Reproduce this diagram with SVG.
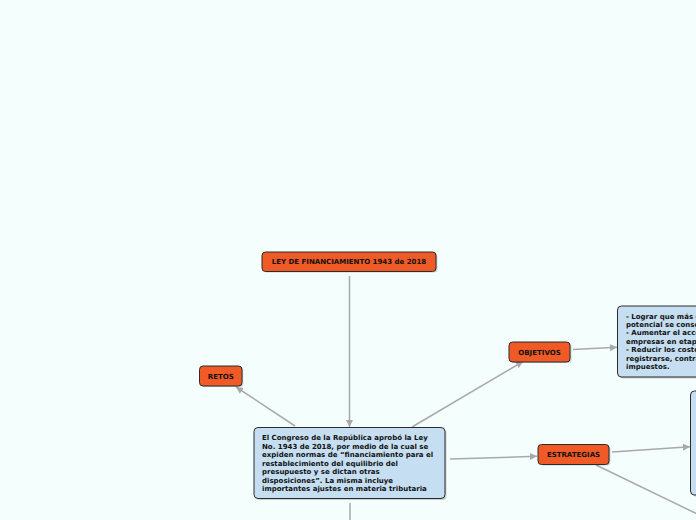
<svg xmlns="http://www.w3.org/2000/svg" width="696" height="520" viewBox="0 0 696 520">
<defs>
<marker id="arr" markerWidth="8" markerHeight="8" refX="7" refY="4" orient="auto" markerUnits="userSpaceOnUse">
<path d="M0,0.5 L7,4 L0,7.5 Z" fill="#a8a8a8"/>
</marker>
</defs>
<style>
.bg{fill:#f4fffd}
.c{stroke:#a9a9a9;stroke-width:1.5;fill:none}
.ca{stroke:#a9a9a9;stroke-width:1.5;fill:none;marker-end:url(#arr)}
.sh{fill:#000;opacity:0.18}
.o{fill:#ef5a26;stroke:#2b2b2b;stroke-width:1}
.b{fill:#c6def1;stroke:#2b2b2b;stroke-width:1}
text{font-family:"DejaVu Sans",Verdana,sans-serif;font-weight:bold;font-size:7px;fill:#111}
.m{text-anchor:middle}
</style>
<rect class="bg" x="0" y="0" width="696" height="520"/>
<g id="connectors">
<line class="ca" x1="349.5" y1="276" x2="349.5" y2="427"/>
<line class="c" x1="350" y1="503" x2="350" y2="520"/>
<line class="ca" x1="295" y1="426" x2="236" y2="387"/>
<line class="ca" x1="412" y1="427" x2="523" y2="361.5"/>
<line class="ca" x1="450" y1="459" x2="537" y2="456.3"/>
<line class="ca" x1="573" y1="349.5" x2="617" y2="347.3"/>
<line class="ca" x1="612" y1="452" x2="690" y2="446.8"/>
<line class="c" x1="596" y1="465" x2="720" y2="525"/>
</g>
<g id="title">
<rect class="sh" x="263.5" y="253" width="174" height="19.5" rx="3.5"/>
<rect class="o" x="262" y="252" width="174" height="19.5" rx="3.5"/>
<text class="m" x="349" y="264.2">LEY DE FINANCIAMIENTO 1943 de 2018</text>
</g>
<g id="retos">
<rect class="sh" x="200.8" y="367" width="42.5" height="20" rx="3.5"/>
<rect class="o" x="199.5" y="366" width="42.5" height="20" rx="3.5"/>
<text class="m" x="220.8" y="378.5">RETOS</text>
</g>
<g id="central">
<rect class="sh" x="255.5" y="429" width="191" height="71" rx="4"/>
<rect class="b" x="254" y="427.5" width="191" height="71" rx="4"/>
<text x="262" y="440">El Congreso de la República aprobó la Ley</text>
<text x="262" y="448.5">No. 1943 de 2018, por medio de la cual se</text>
<text x="262" y="457">expiden normas de “financiamiento para el</text>
<text x="262" y="465.5">restablecimiento del equilibrio del</text>
<text x="262" y="474">presupuesto y se dictan otras</text>
<text x="262" y="482.5">disposiciones”. La misma incluye</text>
<text x="262" y="491">importantes ajustes en materia tributaria</text>
</g>
<g id="objetivos">
<rect class="sh" x="510.5" y="343" width="61" height="20" rx="3.5"/>
<rect class="o" x="509" y="342" width="61" height="20" rx="3.5"/>
<text class="m" x="539.5" y="354.5">OBJETIVOS</text>
</g>
<g id="objetivos-detalle">
<rect class="sh" x="619" y="307.5" width="100" height="71" rx="4"/>
<rect class="b" x="617.5" y="306" width="100" height="71" rx="4"/>
<text x="626" y="318.5">- Lograr que más c</text>
<text x="626" y="327">potencial se conso</text>
<text x="626" y="335.4">- Aumentar el acce</text>
<text x="626" y="343.9">empresas en etap</text>
<text x="626" y="352.3">- Reducir los costo</text>
<text x="626" y="360.8">registrarse, contra</text>
<text x="626" y="369.2">impuestos.</text>
</g>
<g id="estrategias">
<rect class="sh" x="539.5" y="445.5" width="71" height="20" rx="3.5"/>
<rect class="o" x="538" y="444.5" width="71" height="20" rx="3.5"/>
<text class="m" x="573.5" y="457">ESTRATEGIAS</text>
</g>
<g id="estrategias-detalle">
<rect class="sh" x="692" y="392.5" width="40" height="104" rx="4"/>
<rect class="b" x="690.5" y="391" width="40" height="104" rx="4"/>
</g>
</svg>
